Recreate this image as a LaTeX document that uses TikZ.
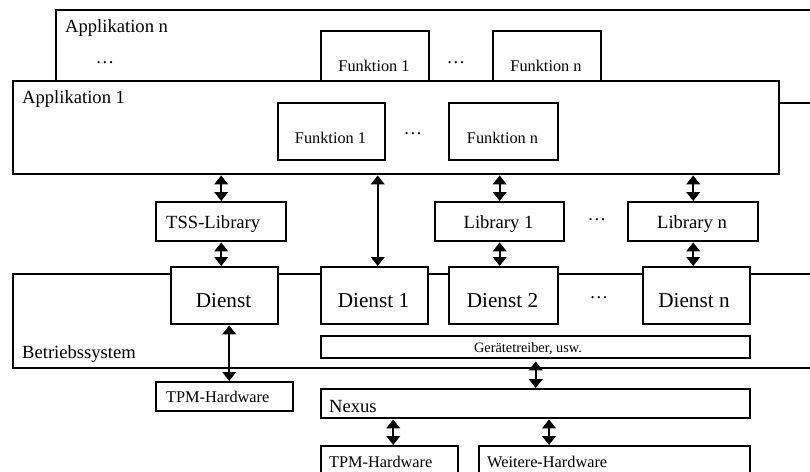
\documentclass[tikz,border=0pt]{standalone}
\usepackage{fontspec}
\setmainfont{Liberation Serif}
\usetikzlibrary{arrows.meta,calc}
\begin{document}
\begin{tikzpicture}[x=1pt,y=-1pt,
  box/.style={draw, line width=2.4pt, fill=white, rectangle, inner sep=0pt, anchor=north west},
  lbl/.style={inner sep=0pt, font=\fontsize{18.6}{20}\selectfont},
  fnlbl/.style={inner sep=0pt, font=\fontsize{16.3}{18}\selectfont},
  svlbl/.style={inner sep=0pt, font=\fontsize{21.2}{23}\selectfont},
  smlbl/.style={inner sep=0pt, font=\fontsize{14.3}{16}\selectfont},
  dbl/.style={line width=2.4pt, >={Triangle[length=9pt,width=13.5pt]}, <->}
]
\useasboundingbox (0,0) rectangle (810,471);
\clip (0,0) rectangle (810,471);

% application n (behind application 1)
\node[box, minimum width=800pt, minimum height=93pt] (appn) at (55,9) {};
\node[box, minimum width=108pt, minimum height=72pt] (fn1n) at (320,30) {};
\node[box, minimum width=108pt, minimum height=72pt] (fnnn) at (492,30) {};

% application 1
\node[box, minimum width=766pt, minimum height=93pt] (app1) at (12,80) {};
\node[box, minimum width=107pt, minimum height=57pt] (f11) at (277,102) {};
\node[box, minimum width=109pt, minimum height=57pt] (f1n) at (448,102) {};

% libraries
\node[box, minimum width=130pt, minimum height=39pt] (tss) at (155,201) {};
\node[box, minimum width=129pt, minimum height=39pt] (lib1) at (434,201) {};
\node[box, minimum width=130pt, minimum height=39pt] (libn) at (627,201) {};

% operating system with services and drivers
\node[box, minimum width=830pt, minimum height=94pt] (os) at (12,273) {};
\node[box, minimum width=429pt, minimum height=22pt] (gt) at (320,335) {};
\node[box, minimum width=107pt, minimum height=57pt] (dienst) at (170,266) {};
\node[box, minimum width=107pt, minimum height=57pt] (d1) at (320,266) {};
\node[box, minimum width=109pt, minimum height=57pt] (d2) at (448,266) {};
\node[box, minimum width=107pt, minimum height=57pt] (dn) at (642,266) {};

% hardware layer
\node[box, minimum width=137pt, minimum height=29pt] (tpm) at (155,381) {};
\node[box, minimum width=429pt, minimum height=29pt] (nexus) at (320,388) {};
\node[box, minimum width=137pt, minimum height=40pt] (tpm2) at (320,445) {};
\node[box, minimum width=271pt, minimum height=40pt] (weitere) at (478,445) {};

% connectors
\draw[dbl] (tss.north) -- (tss.north |- app1.south);
\draw[dbl] (tss.south) -- (tss.south |- dienst.north);
\draw[dbl] ([xshift=3pt]d1.north) -- ([xshift=3pt]d1.north |- app1.south);
\draw[dbl] (lib1.north) -- (lib1.north |- app1.south);
\draw[dbl] (lib1.south) -- (lib1.south |- d2.north);
\draw[dbl] (libn.north) -- (libn.north |- app1.south);
\draw[dbl] (libn.south) -- (libn.south |- dn.north);
\draw[dbl] ([xshift=4.5pt]dienst.south) -- ([xshift=4.5pt]dienst.south |- tpm.north);
\draw[dbl] (nexus.north) -- ([yshift=-2pt]nexus.north |- gt.south);
\draw[dbl] ([xshift=3.5pt]tpm2.north) -- ([xshift=3.5pt]tpm2.north |- nexus.south);
\coordinate (wx) at (549,0);
\draw[dbl] (nexus.south -| wx) -- (weitere.north -| wx);

% labels
\node[lbl, anchor=base west] at (65,32) {Applikation n};
\node[lbl, anchor=base] at (105,63) {…};
\node[fnlbl, anchor=base] at (374,71) {Funktion 1};
\node[lbl, anchor=base] at (456,63) {…};
\node[fnlbl, anchor=base] at (546,71) {Funktion n};

\node[lbl, anchor=base west] at (22,103) {Applikation 1};
\node[fnlbl, anchor=base] at (330.5,143) {Funktion 1};
\node[lbl, anchor=base] at (413,134) {…};
\node[fnlbl, anchor=base] at (502.5,143) {Funktion n};

\node[lbl, anchor=base west] at (166,228) {TSS-Library};
\node[lbl, anchor=base] at (498.5,228) {Library 1};
\node[lbl, anchor=base] at (597,220) {…};
\node[lbl, anchor=base] at (692,228) {Library n};

\node[svlbl, anchor=base] at (223.5,307) {Dienst};
\node[svlbl, anchor=base] at (373.5,307) {Dienst 1};
\node[svlbl, anchor=base] at (502.5,307) {Dienst 2};
\node[lbl, anchor=base] at (599,298) {…};
\node[svlbl, anchor=base] at (694,307) {Dienst n};

\node[smlbl, anchor=base] at (528,352) {Gerätetreiber, usw.};
\node[lbl, anchor=base west] at (22,358) {Betriebssystem};

\node[fnlbl, anchor=base west] at (166,402) {TPM-Hardware};
\node[lbl, anchor=base west] at (329,412) {Nexus};
\node[fnlbl, anchor=base west] at (329,467) {TPM-Hardware};
\node[fnlbl, anchor=base west] at (487,467) {Weitere-Hardware};
\end{tikzpicture}
\end{document}
